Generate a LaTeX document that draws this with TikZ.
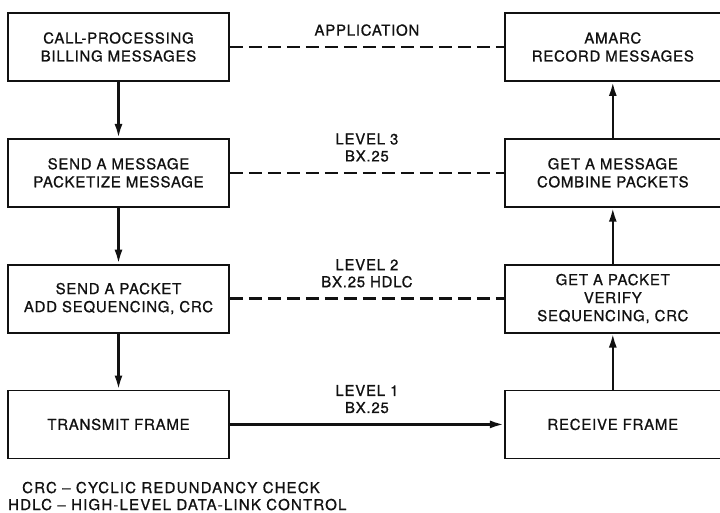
\documentclass[tikz,border=0pt]{standalone}
\usepackage{fontspec}
\setmainfont{TeX Gyre Heros}[LetterSpace=5, UprightFeatures={FakeBold=0.9}]
\usetikzlibrary{arrows.meta, positioning}
\definecolor{ink}{HTML}{111111}
\tikzset{
  box/.style={draw=ink, line width=1.8pt, minimum height=68pt, align=center,
              inner sep=2pt, font=\fontsize{15}{18}\selectfont, text=ink},
  lbox/.style={box, minimum width=221pt},
  rbox/.style={box, minimum width=216pt},
  fl/.style={-{Latex[length=14pt, width=8pt]}, line width=2.4pt, draw=ink},
  dl/.style={line width=2.3pt, draw=ink, dash pattern=on 13pt off 6pt},
  lbl/.style={align=center, font=\fontsize{15}{17}\selectfont, text=ink, inner sep=1pt},
  note/.style={font=\fontsize{15}{17}\selectfont\addfontfeature{LetterSpace=8}, text=ink, inner sep=0pt},
}

\begin{document}
\begin{tikzpicture}[x=1pt, y=-1pt, node distance=56pt]
  \useasboundingbox (0,0) rectangle (720,512);
  % sending side
  \node[lbox] (cp) at (118.5,47) {CALL-PROCESSING\\BILLING MESSAGES};
  \node[lbox, below=of cp] (sm) {SEND A MESSAGE\\PACKETIZE MESSAGE};
  \node[lbox, below=of sm] (sp) {SEND A PACKET\\ADD SEQUENCING, CRC};
  \node[lbox, below=of sp] (tf) {TRANSMIT FRAME};
  % receiving side
  \node[rbox, right=274pt of cp] (am) {AMARC\\RECORD MESSAGES};
  \node[rbox, below=of am] (gm) {GET A MESSAGE\\COMBINE PACKETS};
  \node[rbox, below=of gm] (gp) {GET A PACKET\\VERIFY\\SEQUENCING, CRC};
  \node[rbox, below=of gp] (rf) {RECEIVE FRAME};

  \draw[fl] (cp) -- (sm);
  \draw[fl] (sm) -- (sp);
  \draw[fl] (sp) -- (tf);
  \draw[fl] (rf) -- (gp);
  \draw[fl] (gp) -- (gm);
  \draw[fl] (gm) -- (am);

  % peer levels
  \draw[dl] (cp) -- node[lbl, above=9pt] (app) {APPLICATION} (am);
  \draw[dl] (sm) -- node[lbl, above=9pt] (lv3) {LEVEL 3\\BX.25} (gm);
  \draw[dl] (sp) -- node[lbl, above=9pt] (lv2) {LEVEL 2\\BX.25 HDLC} (gp);
  \draw[fl] (tf) -- node[lbl, above=9pt] (lv1) {LEVEL 1\\BX.25} (rf);

  \node[note, anchor=base west] (crc) at (22,493) {CRC \textendash\ CYCLIC REDUNDANCY CHECK};
  \node[note, anchor=base west] (hdlc) at (8,510) {HDLC \textendash\ HIGH-LEVEL DATA-LINK CONTROL};
\end{tikzpicture}
\end{document}
